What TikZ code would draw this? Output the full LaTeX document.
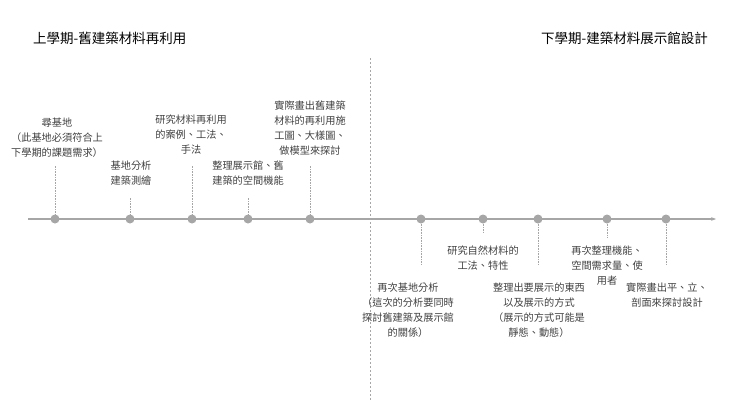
\documentclass[tikz,border=0pt]{standalone}
\usepackage{fontspec}
\setmainfont{Noto Sans CJK TC}
\usetikzlibrary{arrows.meta}
\definecolor{ax}{HTML}{A6A6A6}
\definecolor{tx}{HTML}{404040}
\begin{document}
\begin{tikzpicture}[x=1pt,y=-1pt,
  lbl/.style={align=center,font=\fontsize{10.2}{15}\selectfont,text=tx,inner sep=0pt,anchor=north},
  dotn/.style={circle,fill=ax,minimum size=9pt,inner sep=0pt},
  stem/.style={densely dotted,ax,line width=0.6pt},
  ttl/.style={font=\fontsize{13.5}{15}\selectfont,text=black,inner sep=0pt}]
\useasboundingbox (0,0) rectangle (740,416);
\coordinate (s) at (28,219); \coordinate (e) at (716,219);
\draw[ax,line width=1.5pt,-{Stealth[length=5pt]}] (s) -- (e);
\coordinate (d1) at (370,58); \coordinate (d2) at (370,400);
\draw[ax,dashed,dash pattern=on 2pt off 2pt,line width=0.5pt] (d1) -- (d2);
\node[ttl,anchor=west] (t1) at (33,38) {上學期-舊建築材料再利用};
\node[ttl,anchor=east] (t2) at (708,38) {下學期-建築材料展示館設計};
\foreach \n/\x/\y in {a/55/165,b/130/198,c/192/165,d/248/198,e/310/165,f/421/265,g/483/232,h/538/265,i/607/237,j/666/265}{
  \node[dotn] (\n) at (\x,219) {};
  \coordinate (\n t) at (\x,\y);
  \draw[stem] (\n) -- (\n t);
}
\node[lbl] (la) at (57,118) {尋基地\\（此基地必須符合上\\下學期的課題需求）};
\node[lbl] (lb) at (131,161) {基地分析\\建築測繪};
\node[lbl] (lc) at (191,115) {研究材料再利用\\的案例、工法、\\手法};
\node[lbl] (ld) at (248,161) {整理展示館、舊\\建築的空間機能};
\node[lbl] (le) at (310,101) {實際畫出舊建築\\材料的再利用施\\工圖、大樣圖、\\做模型來探討};
\node[lbl] (lf) at (408,283) {再次基地分析\\（這次的分析要同時\\探討舊建築及展示館\\的關係）};
\node[lbl] (lg) at (483,246) {研究自然材料的\\工法、特性};
\node[lbl] (lh) at (539,283) {整理出要展示的東西\\以及展示的方式\\（展示的方式可能是\\靜態、動態）};
\node[lbl] (li) at (607,246) {再次整理機能、\\空間需求量、使\\用者};
\node[lbl] (lj) at (667,283) {實際畫出平、立、\\剖面來探討設計};
\end{tikzpicture}
\end{document}
